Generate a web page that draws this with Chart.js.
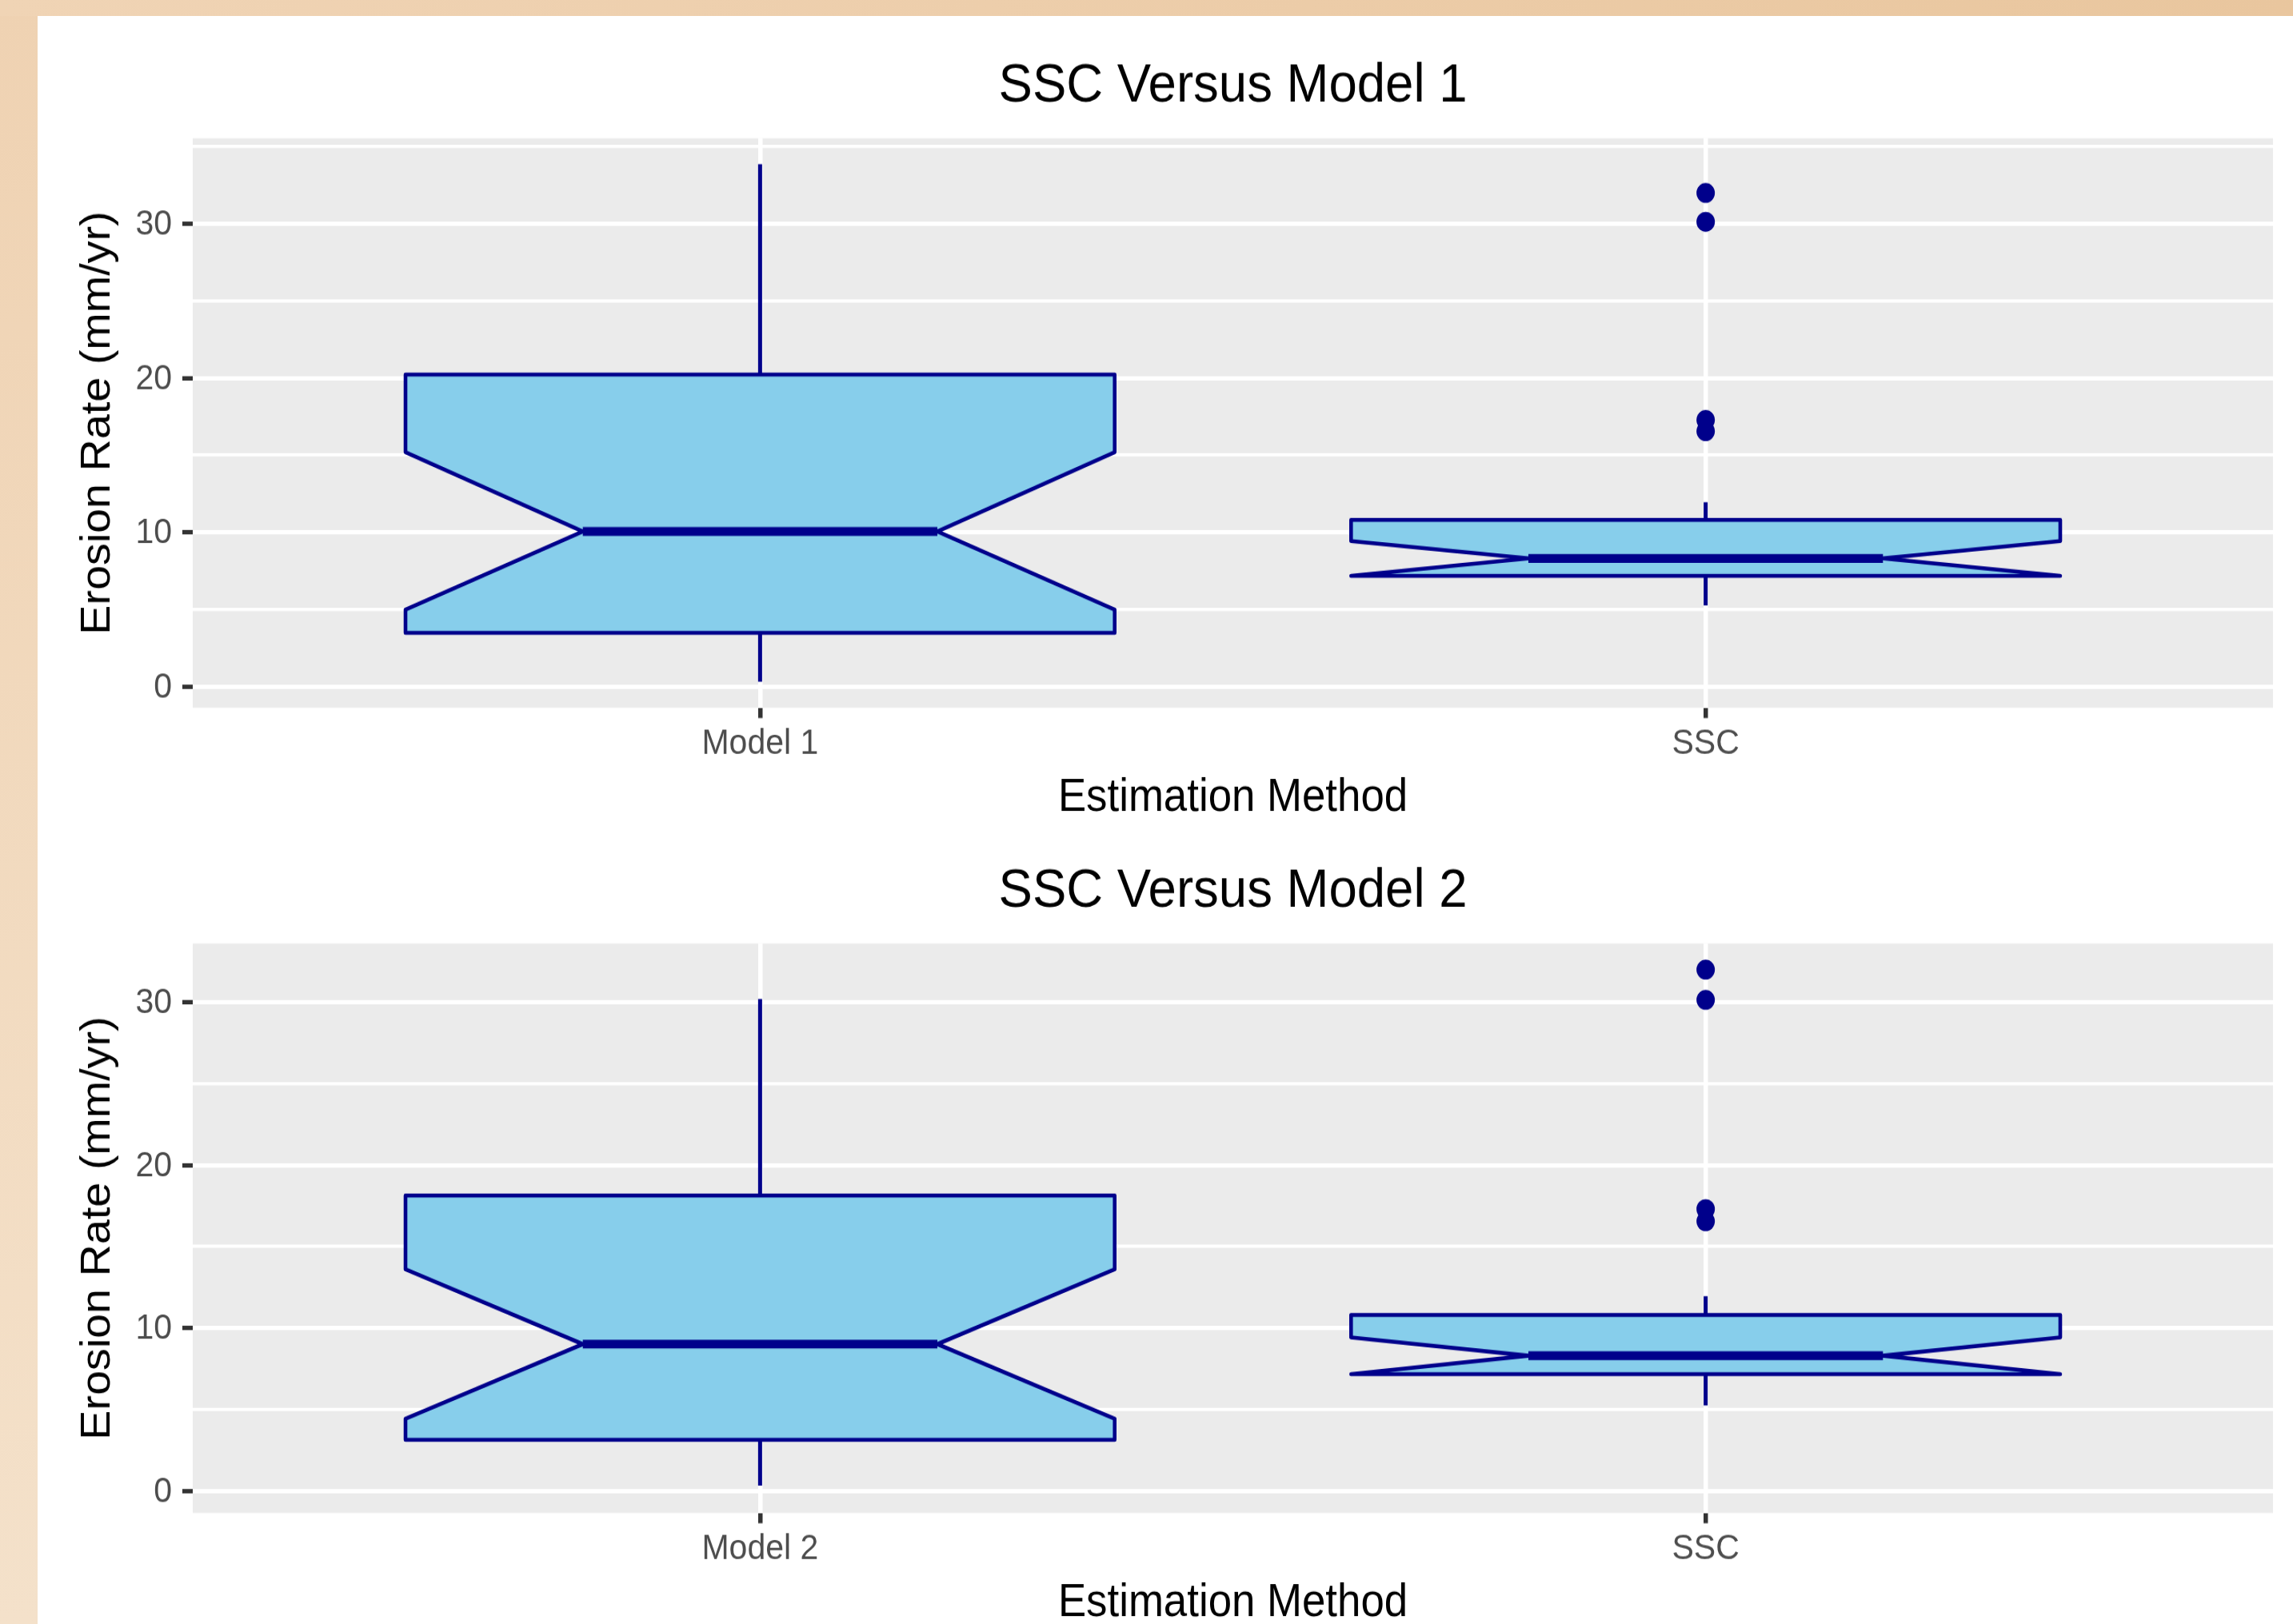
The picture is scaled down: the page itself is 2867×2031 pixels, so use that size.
<!DOCTYPE html>
<html lang="en">
<head>
    <meta charset="UTF-8">
    <title>SSC Versus Model 1 / Model 2</title>
    <script src="https://cdn.jsdelivr.net/npm/chart.js"></script>
    <style>
        html, body { margin: 0; padding: 0; }
        body {
            width: 2867px; height: 2031px; overflow: hidden; position: relative;
            background: linear-gradient(to bottom, #EFD2B2, #F4E1CA);
        }
        #topband {
            position: absolute; left: 0; top: 0; width: 2867px; height: 20px;
            background: linear-gradient(to right, #F0D4B5, #E9C69E);
        }
        #sheet {
            position: absolute; left: 47px; top: 20px; width: 2820px; height: 2011px;
            background: #ffffff; overflow: hidden;
        }
        #sheet canvas { position: absolute; left: 0; }
        #chart1 { top: 0; }
        #chart2 { top: 1007px; }
    </style>
</head>
<body>
    <div id="topband"></div>
    <div id="sheet">
        <!-- the original figure is stretched a little vertically, so the canvases are too -->
        <canvas id="chart1" width="2820" height="932" style="width:2820px;height:1007px"></canvas>
        <canvas id="chart2" width="2820" height="932" style="width:2820px;height:1007px"></canvas>
    </div>

    <script>
        const FONT = '"Liberation Sans", Arial, Helvetica, sans-serif';
        const FILL = '#87CEEB';
        const LINE = '#00008B';

        // tick values shared by both panels
        const yMajorTicks = [0, 10, 20, 30];
        const yMinorTicks = [5, 15, 25, 35];

        // top panel: SSC Versus Model 1
        const categories1 = ['Model 1', 'SSC'];
        const whiskerLow1 = [0.30, 5.25];
        const q1_1 = [3.47, 7.17];
        const notchLow1 = [4.98, 7.17];
        const median1 = [10.05, 8.30];
        const notchHigh1 = [15.19, 9.42];
        const q3_1 = [20.22, 10.80];
        const whiskerHigh1 = [33.86, 11.95];
        const outliers1 = [[], [16.55, 17.28, 30.13, 32.0]];

        // bottom panel: SSC Versus Model 2
        const categories2 = ['Model 2', 'SSC'];
        const whiskerLow2 = [0.32, 5.25];
        const q1_2 = [3.14, 7.17];
        const notchLow2 = [4.43, 7.17];
        const median2 = [9.01, 8.30];
        const notchHigh2 = [13.60, 9.42];
        const q3_2 = [18.13, 10.80];
        const whiskerHigh2 = [30.20, 11.95];
        const outliers2 = [[], [16.55, 17.30, 30.14, 32.0]];

        const BOX_HALF = 0.375;   // half of the box width in category units
        const NOTCH_WIDTH = 0.5;

        function makeChart(id, s) {
            const notchedBoxes = {
                id: 'notchedBoxes',
                beforeDraw(chart) {
                    const { ctx, chartArea: a } = chart;
                    ctx.save();
                    ctx.fillStyle = '#EBEBEB';
                    ctx.fillRect(a.left, a.top, a.width, a.height);
                    ctx.restore();
                },
                beforeDatasetsDraw(chart) {
                    const { ctx, chartArea: a } = chart;
                    const xs = chart.scales.x, ys = chart.scales.y;
                    const y = v => ys.getPixelForValue(v);
                    ctx.save();
                    ctx.beginPath();
                    ctx.rect(a.left, a.top, a.width, a.height);
                    ctx.clip();
                    s.categories.forEach((c, i) => {
                        const pos = i + 1;
                        const xc = xs.getPixelForValue(pos);
                        const x0 = xs.getPixelForValue(pos - BOX_HALF);
                        const x1 = xs.getPixelForValue(pos + BOX_HALF);
                        const xi0 = xs.getPixelForValue(pos - BOX_HALF * NOTCH_WIDTH);
                        const xi1 = xs.getPixelForValue(pos + BOX_HALF * NOTCH_WIDTH);

                        // whiskers
                        ctx.strokeStyle = LINE;
                        ctx.lineWidth = 5;
                        ctx.lineCap = 'butt';
                        ctx.beginPath();
                        ctx.moveTo(xc, y(s.q3[i]));
                        ctx.lineTo(xc, y(s.whiskerHigh[i]));
                        ctx.moveTo(xc, y(s.q1[i]));
                        ctx.lineTo(xc, y(s.whiskerLow[i]));
                        ctx.stroke();

                        // notched box
                        ctx.beginPath();
                        ctx.moveTo(x0, y(s.q3[i]));
                        ctx.lineTo(x0, y(s.notchHigh[i]));
                        ctx.lineTo(xi0, y(s.median[i]));
                        ctx.lineTo(x0, y(s.notchLow[i]));
                        ctx.lineTo(x0, y(s.q1[i]));
                        ctx.lineTo(x1, y(s.q1[i]));
                        ctx.lineTo(x1, y(s.notchLow[i]));
                        ctx.lineTo(xi1, y(s.median[i]));
                        ctx.lineTo(x1, y(s.notchHigh[i]));
                        ctx.lineTo(x1, y(s.q3[i]));
                        ctx.closePath();
                        ctx.fillStyle = FILL;
                        ctx.fill();
                        ctx.lineJoin = 'round';
                        ctx.lineWidth = 4.6;
                        ctx.stroke();

                        // median
                        ctx.beginPath();
                        ctx.lineWidth = 10.2;
                        ctx.moveTo(xi0, y(s.median[i]));
                        ctx.lineTo(xi1, y(s.median[i]));
                        ctx.stroke();
                    });
                    ctx.restore();
                }
            };

            const points = [];
            s.outliers.forEach((vals, i) => vals.forEach(v => points.push({ x: i + 1, y: v })));

            const isMajor = v => yMajorTicks.includes(v);

            return new Chart(document.getElementById(id), {
                type: 'scatter',
                data: {
                    datasets: [{
                        data: points,
                        pointRadius: 11.5,
                        pointHoverRadius: 11.5,
                        backgroundColor: LINE,
                        borderWidth: 0
                    }]
                },
                plugins: [notchedBoxes],
                options: {
                    responsive: false,
                    animation: false,
                    events: [],
                    devicePixelRatio: 1,
                    layout: { padding: { left: 0, right: 25, top: 0, bottom: 0 } },
                    plugins: {
                        legend: { display: false },
                        tooltip: { enabled: false },
                        title: {
                            display: true,
                            text: s.title,
                            fullSize: false,
                            color: '#000000',
                            font: { family: FONT, size: 63.5, weight: 'normal', lineHeight: 1.2 },
                            padding: { top: 43, bottom: 22.4 }
                        }
                    },
                    scales: {
                        x: {
                            type: 'linear',
                            min: 0.4,
                            max: 2.6,
                            afterBuildTicks: sc => { sc.ticks = s.categories.map((c, i) => ({ value: i + 1 })); },
                            afterFit: sc => { sc.height = 131.4; },
                            border: { display: false },
                            grid: {
                                color: '#FFFFFF',
                                lineWidth: 5.5,
                                tickColor: '#333333',
                                tickWidth: 5.5,
                                tickLength: 12
                            },
                            ticks: {
                                autoSkip: false,
                                maxRotation: 0,
                                padding: 5.3,
                                color: '#4D4D4D',
                                font: { family: FONT, size: 41, lineHeight: 1.2 },
                                callback: v => s.categories[Math.round(v) - 1]
                            },
                            title: {
                                display: true,
                                text: 'Estimation Method',
                                color: '#000000',
                                font: { family: FONT, size: 52.8, lineHeight: 1.02 },
                                padding: { top: 0, bottom: 0 }
                            }
                        },
                        y: {
                            type: 'linear',
                            min: s.yMin,
                            max: s.yMax,
                            afterBuildTicks: sc => {
                                sc.ticks = yMajorTicks.concat(yMinorTicks)
                                    .filter(v => v >= s.yMin && v <= s.yMax)
                                    .sort((a, b) => a - b)
                                    .map(v => ({ value: v }));
                            },
                            afterFit: sc => { sc.width = 194; },
                            border: { display: false },
                            grid: {
                                color: '#FFFFFF',
                                lineWidth: c => isMajor(c.tick.value) ? 4.9 : 3.7,
                                tickColor: c => isMajor(c.tick.value) ? '#333333' : 'rgba(0,0,0,0)',
                                tickWidth: 5.1,
                                tickLength: 13
                            },
                            ticks: {
                                autoSkip: false,
                                padding: 13,
                                labelOffset: 1.5,
                                color: '#4D4D4D',
                                font: { family: FONT, size: 41, lineHeight: 1.2 },
                                callback: v => isMajor(v) ? String(v) : ''
                            },
                            title: {
                                display: true,
                                text: 'Erosion Rate (mm/yr)',
                                color: '#000000',
                                font: { family: FONT, size: 51.6, lineHeight: 1.2 },
                                padding: { top: 45, bottom: 0 }
                            }
                        }
                    }
                }
            });
        }

        makeChart('chart1', {
            title: 'SSC Versus Model 1',
            categories: categories1,
            whiskerLow: whiskerLow1, q1: q1_1, notchLow: notchLow1, median: median1,
            notchHigh: notchHigh1, q3: q3_1, whiskerHigh: whiskerHigh1, outliers: outliers1,
            yMin: -1.38, yMax: 35.54
        });

        makeChart('chart2', {
            title: 'SSC Versus Model 2',
            categories: categories2,
            whiskerLow: whiskerLow2, q1: q1_2, notchLow: notchLow2, median: median2,
            notchHigh: notchHigh2, q3: q3_2, whiskerHigh: whiskerHigh2, outliers: outliers2,
            yMin: -1.35, yMax: 33.6
        });
    </script>
</body>
</html>
